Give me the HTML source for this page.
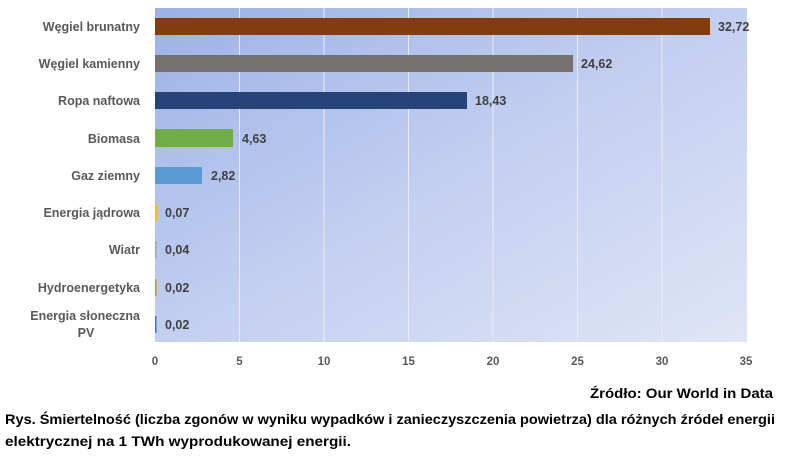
<!DOCTYPE html>
<html><head><meta charset="utf-8"><style>
html,body{margin:0;padding:0;background:#fff;width:787px;height:457px;overflow:hidden}
svg{display:block}
text{font-family:"Liberation Sans",sans-serif;font-weight:bold}
</style></head><body>
<svg width="787" height="457" viewBox="0 0 787 457">
<defs>
<linearGradient id="bg" x1="0" y1="0" x2="1" y2="1">
<stop offset="0" stop-color="#9bb1e6"/>
<stop offset="0.5" stop-color="#c3cff0"/>
<stop offset="1" stop-color="#e0e5f6"/>
</linearGradient>
</defs>
<rect x="155" y="8" width="592" height="334" fill="url(#bg)"/>
<g stroke="#e8ecf8" stroke-width="1">
<line x1="239.5" y1="8" x2="239.5" y2="342"/>
<line x1="324" y1="8" x2="324" y2="342"/>
<line x1="408.5" y1="8" x2="408.5" y2="342"/>
<line x1="493" y1="8" x2="493" y2="342"/>
<line x1="577.5" y1="8" x2="577.5" y2="342"/>
<line x1="662" y1="8" x2="662" y2="342"/>
</g>
<g>
<rect x="155" y="18" width="555" height="17" fill="#843c0c"/>
<rect x="155" y="55" width="418" height="17" fill="#767171"/>
<rect x="155" y="92" width="312" height="17" fill="#264478"/>
<rect x="155" y="129" width="78" height="18" fill="#70ad47"/>
<rect x="155" y="167" width="47" height="17" fill="#5b9bd5"/>
<rect x="155" y="204" width="2" height="17" fill="#ffc000"/>
<rect x="155" y="241" width="1.5" height="17" fill="#a5a5a5"/>
<rect x="155" y="279" width="1.5" height="17" fill="#ed7d31"/>
<rect x="155" y="316" width="1.5" height="17" fill="#4472c4"/>
</g>
<g font-size="12.5" fill="#404040">
<text x="718" y="31">32,72</text>
<text x="581" y="68">24,62</text>
<text x="475" y="105">18,43</text>
<text x="242" y="143">4,63</text>
<text x="211" y="180">2,82</text>
<text x="165" y="217">0,07</text>
<text x="165" y="254">0,04</text>
<text x="165" y="292">0,02</text>
<text x="165" y="329">0,02</text>
</g>
<g font-size="12.5" fill="#595959" text-anchor="end">
<text x="140" y="31">Węgiel brunatny</text>
<text x="140" y="68">Węgiel kamienny</text>
<text x="140" y="105">Ropa naftowa</text>
<text x="140" y="143">Biomasa</text>
<text x="140" y="180">Gaz ziemny</text>
<text x="140" y="217">Energia jądrowa</text>
<text x="140" y="254">Wiatr</text>
<text x="140" y="292">Hydroenergetyka</text>
<text x="140" y="320">Energia słoneczna</text>
<text x="86" y="337" text-anchor="middle">PV</text>
</g>
<g font-size="11.5" fill="#595959" text-anchor="middle">
<text x="155" y="365">0</text>
<text x="239.5" y="365">5</text>
<text x="324" y="365">10</text>
<text x="408.5" y="365">15</text>
<text x="493" y="365">20</text>
<text x="577.5" y="365">25</text>
<text x="662" y="365">30</text>
<text x="746" y="365">35</text>
</g>
<text x="590" y="398" font-size="14" fill="#000" textLength="183" lengthAdjust="spacingAndGlyphs">Źródło: Our World in Data</text>
<text x="5" y="424" font-size="14" fill="#000" textLength="770" lengthAdjust="spacingAndGlyphs">Rys. Śmiertelność (liczba zgonów w wyniku wypadków i zanieczyszczenia powietrza) dla różnych źródeł energii</text>
<text x="5" y="446" font-size="14" fill="#000" textLength="346" lengthAdjust="spacingAndGlyphs">elektrycznej na 1 TWh wyprodukowanej energii.</text>
</svg>
</body></html>
